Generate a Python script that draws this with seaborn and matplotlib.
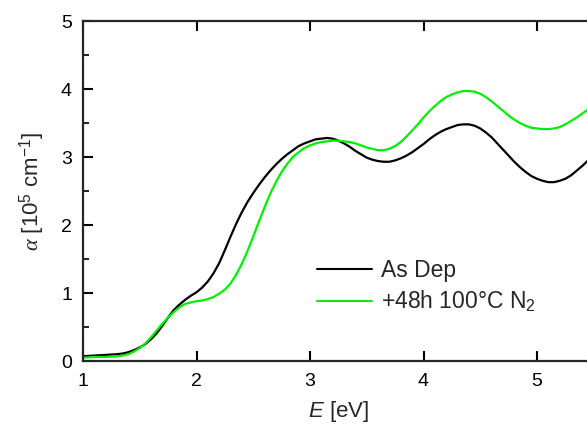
import numpy as np
import pandas as pd
import matplotlib
matplotlib.use("Agg")
import matplotlib.pyplot as plt
import seaborn as sns

# Data (E in eV, alpha in 1e5 cm^-1)
energy_asdep = [1.00, 1.10, 1.20, 1.30, 1.35, 1.40, 1.45, 1.50, 1.55, 1.60, 1.65, 1.70,
                1.75, 1.80, 1.85, 1.90, 1.95, 2.00, 2.05, 2.10, 2.15, 2.20, 2.25, 2.30,
                2.35, 2.40, 2.45, 2.50, 2.55, 2.60, 2.65, 2.70, 2.75, 2.80, 2.85, 2.90,
                2.95, 3.00, 3.05, 3.10, 3.15, 3.20, 3.25, 3.30, 3.35, 3.40, 3.45, 3.50,
                3.55, 3.60, 3.65, 3.70, 3.75, 3.80, 3.85, 3.90, 3.95, 4.00, 4.05, 4.10,
                4.15, 4.20, 4.25, 4.30, 4.35, 4.40, 4.45, 4.50, 4.55, 4.60, 4.65, 4.70,
                4.75, 4.80, 4.85, 4.90, 4.95, 5.00, 5.05, 5.10, 5.15, 5.20, 5.25, 5.30,
                5.35, 5.40, 5.45, 5.50]
alpha_asdep = [0.07, 0.08, 0.09, 0.10, 0.11, 0.13, 0.16, 0.20, 0.25, 0.32, 0.41, 0.52,
               0.64, 0.75, 0.83, 0.90, 0.96, 1.01, 1.08, 1.17, 1.29, 1.44, 1.63, 1.83,
               2.02, 2.19, 2.34, 2.47, 2.59, 2.70, 2.80, 2.89, 2.97, 3.04, 3.10, 3.16,
               3.20, 3.23, 3.26, 3.27, 3.28, 3.27, 3.24, 3.20, 3.15, 3.09, 3.04, 2.99,
               2.96, 2.94, 2.93, 2.93, 2.95, 2.98, 3.02, 3.07, 3.13, 3.19, 3.26, 3.32,
               3.37, 3.41, 3.44, 3.47, 3.48, 3.48, 3.46, 3.42, 3.36, 3.29, 3.20, 3.11,
               3.02, 2.93, 2.85, 2.78, 2.72, 2.68, 2.65, 2.63, 2.63, 2.65, 2.68, 2.73,
               2.80, 2.87, 2.95, 3.03]

energy_anneal = [1.00, 1.10, 1.20, 1.30, 1.35, 1.40, 1.45, 1.50, 1.55, 1.60, 1.65, 1.70,
                 1.75, 1.80, 1.85, 1.90, 1.95, 2.00, 2.05, 2.10, 2.15, 2.20, 2.25, 2.30,
                 2.35, 2.40, 2.45, 2.50, 2.55, 2.60, 2.65, 2.70, 2.75, 2.80, 2.85, 2.90,
                 2.95, 3.00, 3.05, 3.10, 3.15, 3.20, 3.25, 3.30, 3.35, 3.40, 3.45, 3.50,
                 3.55, 3.60, 3.65, 3.70, 3.75, 3.80, 3.85, 3.90, 3.95, 4.00, 4.05, 4.10,
                 4.15, 4.20, 4.25, 4.30, 4.35, 4.40, 4.45, 4.50, 4.55, 4.60, 4.65, 4.70,
                 4.75, 4.80, 4.85, 4.90, 4.95, 5.00, 5.05, 5.10, 5.15, 5.20, 5.25, 5.30,
                 5.35, 5.40, 5.45, 5.50]
alpha_anneal = [0.05, 0.06, 0.06, 0.07, 0.08, 0.10, 0.14, 0.19, 0.26, 0.35, 0.45, 0.55,
                0.64, 0.72, 0.79, 0.84, 0.86, 0.88, 0.89, 0.91, 0.94, 0.99, 1.05, 1.14,
                1.27, 1.43, 1.62, 1.83, 2.05, 2.26, 2.46, 2.63, 2.78, 2.90, 3.00, 3.07,
                3.13, 3.17, 3.20, 3.22, 3.23, 3.24, 3.24, 3.23, 3.22, 3.20, 3.17, 3.14,
                3.12, 3.10, 3.10, 3.12, 3.16, 3.22, 3.30, 3.39, 3.48, 3.58, 3.67, 3.75,
                3.82, 3.88, 3.92, 3.95, 3.97, 3.97, 3.96, 3.93, 3.88, 3.82, 3.75, 3.68,
                3.61, 3.55, 3.50, 3.46, 3.43, 3.42, 3.41, 3.41, 3.42, 3.44, 3.48, 3.53,
                3.58, 3.64, 3.70, 3.77]

labels = ["As Dep", "+48h 100°C N$_2$"]
colors = ["#000000", "#00ee00"]
x_ticks = [1, 2, 3, 4, 5]
y_ticks = [0, 1, 2, 3, 4, 5]

df = pd.concat([
    pd.DataFrame({"E": energy_asdep, "alpha": alpha_asdep, "sample": labels[0]}),
    pd.DataFrame({"E": energy_anneal, "alpha": alpha_anneal, "sample": labels[1]}),
])

sns.set_style("ticks")
plt.rcParams["font.family"] = ["Liberation Sans", "DejaVu Sans"]
plt.rcParams["mathtext.fontset"] = "custom"
plt.rcParams["mathtext.rm"] = "Liberation Sans"
plt.rcParams["mathtext.it"] = "Liberation Serif:italic"
plt.rcParams["mathtext.sf"] = "Liberation Sans:italic"

fig = plt.figure(figsize=(5.87, 4.29), dpi=100)
ax = fig.add_axes([83 / 587, 68 / 429, 510.75 / 587, 340 / 429])

sns.lineplot(data=df, x="E", y="alpha", hue="sample", palette=colors,
             hue_order=labels, ax=ax, linewidth=1.6, sort=True, estimator=None)

ax.set_xlim(1, 5.5)
ax.set_ylim(0, 5)
ax.set_xticks(x_ticks)
ax.set_yticks(y_ticks)
ax.set_yticks(np.arange(0.5, 5, 1.0), minor=True)
ax.tick_params(axis="both", which="major", direction="in", length=7, width=1.5,
               labelsize=14, colors="black")
ax.tick_params(axis="x", which="major", pad=9)
ax.tick_params(axis="y", which="major", pad=8)
ax.tick_params(axis="y", which="minor", direction="in", length=4, width=1.5)
ax.tick_params(axis="x", which="major", top=True, labeltop=False, length=7)
ax.tick_params(axis="y", which="both", right=False)
for sp in ax.spines.values():
    sp.set_linewidth(1.6)
ax.spines["right"].set_visible(False)

ax.set_xlabel(r"$\mathsf{E}$ [eV]", fontsize=16, labelpad=6)
ax.set_ylabel(r"$\alpha$ [10$^5$ cm$^{-1}$]", fontsize=16, labelpad=10)

leg = ax.legend(frameon=False, loc="upper left", bbox_to_anchor=(0.458, 0.30),
                fontsize=16.5, handlelength=2.4, handletextpad=0.4,
                labelspacing=0.3, borderpad=0, borderaxespad=0)
for line in leg.get_lines():
    line.set_linewidth(1.5)

fig.savefig("out.png", dpi=100)
